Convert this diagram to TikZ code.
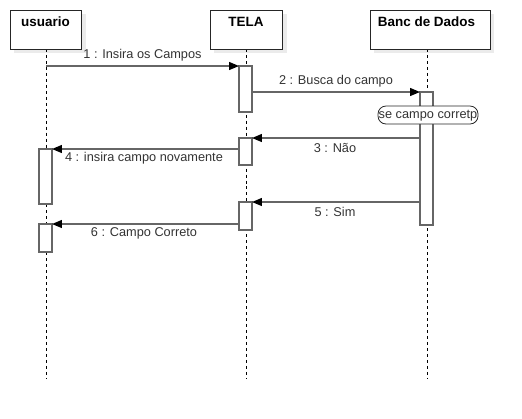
\documentclass[tikz,border=0pt]{standalone}
\usepackage{fontspec}
\setmainfont{Liberation Sans}
\usetikzlibrary{arrows.meta}
\definecolor{linegray}{HTML}{666666}
\definecolor{txtgray}{HTML}{333333}
\definecolor{shadowgray}{HTML}{EBEBEB}
\begin{document}
\begin{tikzpicture}[x=1bp,y=-1bp,
  every node/.style={font=\fontsize{12.8}{15}\selectfont, text=txtgray, inner sep=0},
  ttl/.style={text=black, font=\fontsize{13.5}{16}\selectfont\bfseries},
  actor/.style={draw=black!85, line width=1pt, fill=white},
  life/.style={draw=black, dash pattern=on 3pt off 3pt, line width=0.8pt},
  act/.style={draw=linegray, line width=1.3pt, fill=white},
  msg/.style={draw=linegray, line width=1.3pt, -{Triangle[length=10pt,width=8pt,color=black]}},
  lbl/.style={text=txtgray}]
\useasboundingbox (0,0) rectangle (522,418);
% shadows
\fill[shadowgray] (14,14) rectangle (86,53);
\fill[shadowgray] (214,14) rectangle (287,53);
\fill[shadowgray] (374,14) rectangle (494,53);
% lifelines
\coordinate (u0) at (46,49); \coordinate (u1) at (46,378);
\coordinate (t0) at (246,49); \coordinate (t1) at (246,378);
\coordinate (b0) at (427,49); \coordinate (b1) at (427,378);
\draw[life] (u0) -- (u1);
\draw[life] (t0) -- (t1);
\draw[life] (b0) -- (b1);
% actor boxes
\draw[actor] (10,10) rectangle (81,49);
\node[ttl] (usuario) at (45.5,22) {usuario};
\draw[actor] (210,10) rectangle (282,49);
\node[ttl] (tela) at (246,22) {TELA};
\draw[actor] (370,10) rectangle (490,49);
\node[ttl] (banc) at (426.5,22) {Banc de Dados};
% activations
\draw[act] (239,66) rectangle (252,112);
\draw[act] (420,92) rectangle (433,225);
\draw[act] (239,138) rectangle (252,165);
\draw[act] (39,149) rectangle (52,204);
\draw[act] (239,202) rectangle (252,230);
\draw[act] (39,224) rectangle (52,252);
% message endpoints
\coordinate (m1s) at (46,66); \coordinate (m1e) at (239,66);
\coordinate (m2s) at (252,92); \coordinate (m2e) at (420,92);
\coordinate (m3s) at (420,138); \coordinate (m3e) at (252,138);
\coordinate (m4s) at (239,149); \coordinate (m4e) at (52,149);
\coordinate (m5s) at (420,202); \coordinate (m5e) at (252,202);
\coordinate (m6s) at (239,224); \coordinate (m6e) at (52,224);
\draw[msg] (m1s) -- (m1e);
\draw[msg] (m2s) -- (m2e);
\draw[msg] (m3s) -- (m3e);
\draw[msg] (m4s) -- (m4e);
\draw[msg] (m5s) -- (m5e);
\draw[msg] (m6s) -- (m6e);
% labels
\node[lbl] (l1) at (142.5,55.5) {1 : Insira os Campos};
\node[lbl] (l2) at (336,81.5) {2 : Busca do campo};
\node[lbl] (l3) at (335,147.5) {3 : Não};
\node[lbl] (l4) at (144,158.5) {4 : insira campo novamente};
\node[lbl] (l5) at (335,211.5) {5 : Sim};
\node[lbl] (l6) at (144,233.5) {6 : Campo Correto};
% note
\draw[draw=black!85, line width=0.8pt, fill=white, rounded corners=8bp] (378,106) rectangle (478,124);
\begin{scope}
\clip (378.5,106) rectangle (477.5,124);
\node[text=black!80] (note) at (428,115.5) {se campo corretp};
\end{scope}
\end{tikzpicture}
\end{document}
